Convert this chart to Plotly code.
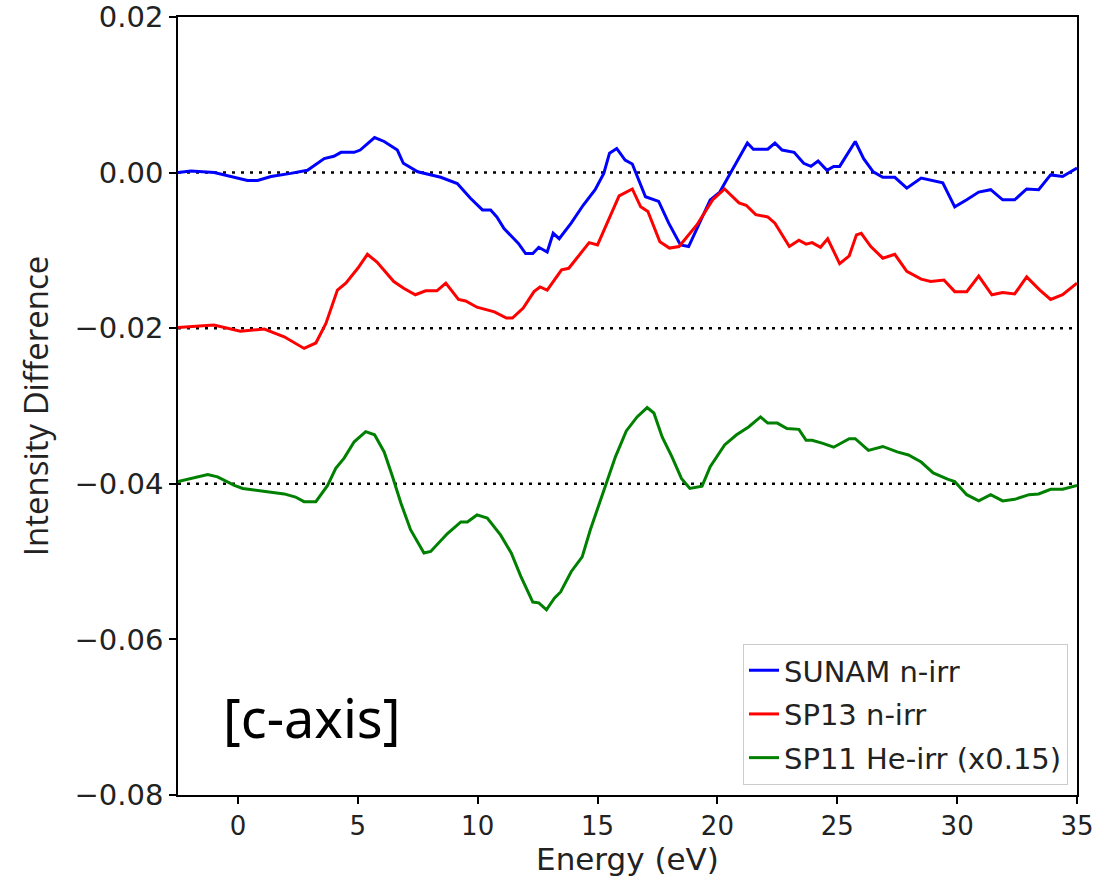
import plotly.graph_objects as go

# SUNAM n-irr (blue)
sunam_e = [-2.5, -1.96, -0.99, -0.29, 0.4, 0.82, 1.38, 2.2, 2.9, 3.6, 4.0, 4.3, 4.85, 5.1, 5.7, 6.1,
           6.65, 6.9, 7.5, 8.46, 9.15, 9.7, 10.2, 10.54, 10.8, 11.1, 11.4, 11.7, 12.0, 12.3, 12.55,
           12.9, 13.15, 13.4, 13.9, 14.4, 14.9, 15.26, 15.5, 15.8, 16.15, 16.45, 17.0, 17.55, 17.97,
           18.46, 18.8, 19.3, 19.7, 20.1, 20.7, 21.25, 21.5, 22.1, 22.4, 22.7, 23.2, 23.6, 23.9,
           24.2, 24.57, 24.85, 25.1, 25.75, 26.1, 26.5, 26.9, 27.4, 27.9, 28.5, 29.4, 29.9, 30.4,
           30.9, 31.4, 31.9, 32.4, 32.9, 33.4, 33.9, 34.4, 35.0]
sunam_y = [0.0, 0.2, 0.0, -0.5, -1.0, -1.0, -0.5, -0.1, 0.3, 1.8, 2.1, 2.6, 2.6, 2.9, 4.5, 4.0,
           2.9, 1.2, 0.1, -0.6, -1.4, -3.3, -4.8, -4.8, -5.7, -7.2, -8.2, -9.1, -10.4, -10.4, -9.6,
           -10.2, -7.8, -8.5, -6.5, -4.2, -2.2, -0.1, 2.5, 3.1, 1.6, 1.1, -3.1, -3.7, -6.5,
           -9.3, -9.5, -6.1, -3.5, -2.5, 0.8, 3.8, 3.0, 3.0, 3.8, 2.9, 2.6, 1.2, 0.8,
           1.5, 0.3, 0.8, 0.8, 4.0, 1.8, 0.1, -0.6, -0.6, -2.0, -0.7, -1.3, -4.4, -3.5,
           -2.5, -2.2, -3.5, -3.5, -2.1, -2.2, -0.3, -0.5, 0.6]

# SP13 n-irr (red)
sp13_e = [-2.5, -1.0, 0.1, 1.1, 1.93, 2.76, 3.25, 3.67, 4.15, 4.5, 5.0, 5.4, 5.8, 6.5, 6.93, 7.4,
          7.83, 8.3, 8.67, 9.2, 9.5, 9.97, 10.7, 11.2, 11.45, 11.9, 12.35, 12.6, 12.9, 13.5, 13.8,
          14.65, 15.0, 15.9, 16.45, 16.8, 17.1, 17.6, 18.0, 18.4, 19.15, 19.8, 20.3, 20.9, 21.2,
          21.6, 22.1, 22.4, 23.0, 23.4, 23.7, 23.95, 24.3, 24.6, 25.1, 25.5, 25.8, 26.0, 26.4,
          26.9, 27.4, 27.9, 28.5, 28.9, 29.45, 29.9, 30.4, 30.9, 31.45, 31.9, 32.4, 32.9, 33.45,
          33.9, 34.4, 35.0]
sp13_y = [-19.9, -19.6, -20.4, -20.1, -21.1, -22.6, -21.9, -19.4, -15.1, -14.2, -12.3, -10.5, -11.5,
          -14.0, -14.9, -15.7, -15.2, -15.2, -14.2, -16.3, -16.5, -17.3, -17.9, -18.7, -18.7, -17.4,
          -15.3, -14.7, -15.1, -12.5, -12.3, -9.0, -9.3, -3.0, -2.1, -4.4, -5.0, -8.9, -9.7, -9.5,
          -6.7, -3.5, -2.1, -3.9, -4.2, -5.4, -5.7, -6.5, -9.5, -8.7, -9.2, -9.0, -9.6, -8.5,
          -11.7, -10.7, -8.0, -7.8, -9.5, -11.0, -10.5, -12.7, -13.7, -14.0, -13.8, -15.3, -15.3,
          -13.3, -15.7, -15.4, -15.6, -13.4, -15.1, -16.3, -15.7, -14.2]

# SP11 He-irr x0.15 (green)
sp11_e = [-2.5, -1.96, -1.26, -0.85, -0.15, 0.2, 0.9, 1.3, 1.93, 2.4, 2.76, 3.25, 3.74, 4.08, 4.43,
          4.85, 5.33, 5.7, 6.1, 6.45, 6.8, 7.2, 7.76, 8.04, 8.74, 9.3, 9.57, 9.97, 10.4, 10.96,
          11.4, 11.8, 12.3, 12.55, 12.87, 13.2, 13.46, 13.9, 14.36, 14.7, 15.33, 15.75, 16.2,
          16.65, 17.07, 17.35, 17.7, 18.1, 18.5, 18.85, 19.36, 19.7, 20.3, 20.8, 21.3, 21.8, 22.1,
          22.5, 22.9, 23.4, 23.7, 23.95, 24.4, 24.85, 25.5, 25.75, 26.3, 26.9, 27.5, 27.97, 28.5,
          29.0, 29.6, 29.9, 30.4, 30.9, 31.4, 31.9, 32.4, 33.0, 33.4, 33.9, 34.4, 35.0]
sp11_y = [-39.7, -39.3, -38.8, -39.1, -40.2, -40.6, -40.9, -41.1, -41.3, -41.7, -42.3, -42.3, -40.2,
          -38.0, -36.7, -34.6, -33.3, -33.7, -35.9, -39.1, -42.5, -45.9, -48.9, -48.7, -46.4,
          -44.9, -44.9, -44.0, -44.4, -46.6, -48.9, -51.9, -55.2, -55.3, -56.2, -54.7, -53.9,
          -51.3, -49.4, -45.9, -40.4, -36.5, -33.2, -31.4, -30.2, -30.9, -34.0, -36.5, -39.3,
          -40.6, -40.3, -37.8, -35.0, -33.7, -32.7, -31.4, -32.2, -32.2, -32.9, -33.0, -34.4,
          -34.4, -34.8, -35.3, -34.2, -34.2, -35.7, -35.2, -35.9, -36.3, -37.2, -38.6, -39.4,
          -39.7, -41.4, -42.2, -41.4, -42.2, -42.0, -41.4, -41.3, -40.7, -40.7, -40.2]

baselines = [0.0, -0.02, -0.04]
names = ["SUNAM n-irr", "SP13 n-irr", "SP11 He-irr (x0.15)"]
colors = ["#0000ff", "#ff0000", "#008000"]
x_ticks = [0, 5, 10, 15, 20, 25, 30, 35]
y_ticks = [0.02, 0.0, -0.02, -0.04, -0.06, -0.08]

series = [(sunam_e, sunam_y), (sp13_e, sp13_y), (sp11_e, sp11_y)]

fig = go.Figure()
for i, ((e, y), name, col) in enumerate(zip(series, names, colors)):
    fig.add_trace(go.Scatter(
        x=e, y=[v / 1000 for v in y], mode="lines", name=name,
        legendgroup=str(i),
        line=dict(color=col, width=3),
    ))

# dotted zero lines for each offset curve
for b in baselines:
    fig.add_hline(y=b, line=dict(color="black", width=2.5, dash="3px,6px"), layer="below")

axis_common = dict(
    showline=True, linecolor="black", linewidth=1.5, mirror=True,
    ticks="outside", ticklen=7, tickwidth=1.5, tickcolor="black",
    showgrid=False, zeroline=False,
)

fig.update_xaxes(
    range=[-2.5, 35], tickvals=x_ticks,
    tickfont=dict(family="DejaVu Sans", size=26, color="#222"),
    title=dict(text="Energy (eV)", font=dict(family="DejaVu Sans", size=31, color="#222"), standoff=6),
    **axis_common,
)
fig.update_yaxes(
    range=[-0.08, 0.02], tickvals=y_ticks, tickformat=".2f",
    tickfont=dict(family="DejaVu Sans", size=29, color="#222"),
    title=dict(text="Intensity Difference", font=dict(family="Open Sans", size=33, color="#222"), standoff=16),
    **axis_common,
)

fig.add_annotation(
    text="[c-axis]", xref="paper", yref="paper", x=0.149, y=0.1,
    xanchor="center", yanchor="middle",
    showarrow=False, font=dict(family="Noto Sans", size=54, color="black"),
)

fig.update_layout(
    width=1109, height=880,
    margin=dict(l=178, r=32, t=17, b=85, autoexpand=False),
    plot_bgcolor="white", paper_bgcolor="white",
    legend=dict(
        x=0.99, y=0.013, xanchor="right", yanchor="bottom",
        bgcolor="white", bordercolor="#cccccc", borderwidth=1,
        font=dict(family="DejaVu Sans", size=29, color="#222"),
        tracegroupgap=3,
    ),
)

# drop the default 8px body margin so the figure sits at the page corner
fig.write_html("out.html", config={"displayModeBar": False},
               post_script="document.body.style.margin='0';")
